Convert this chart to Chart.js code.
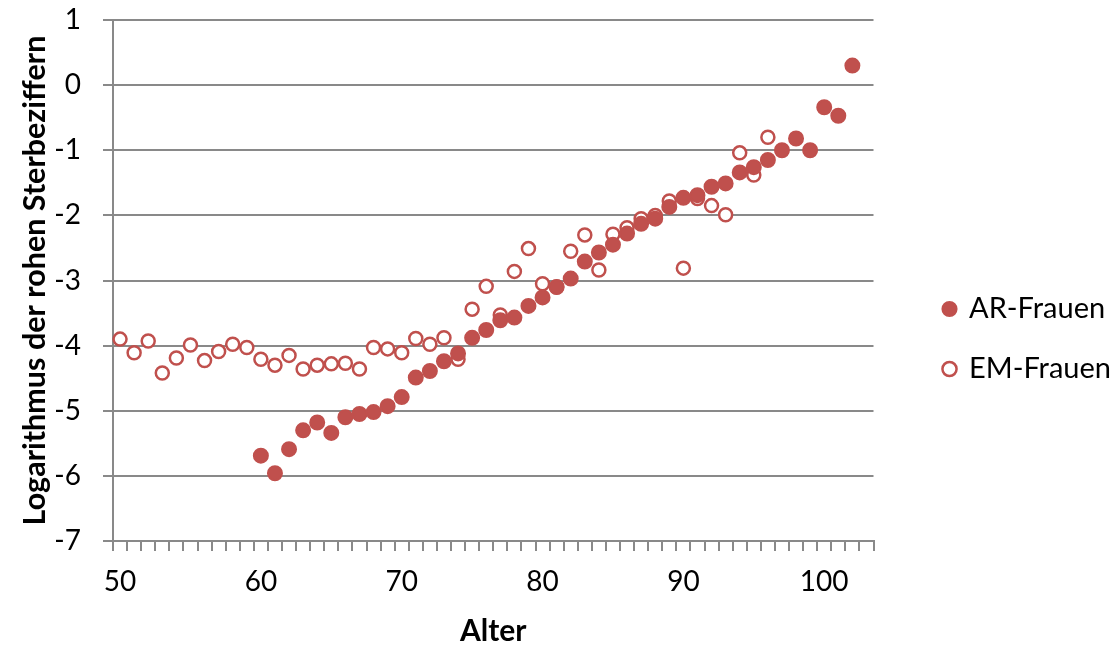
<!DOCTYPE html>
<html>
<head>
<meta charset="utf-8">
<script src="https://cdn.jsdelivr.net/npm/chart.js@4.4.1/dist/chart.umd.min.js"></script>
<style>
    html, body { margin: 0; padding: 0; background: #fff; }
    #wrap { width: 1117px; height: 646px; }
</style>
</head>
<body>
<div id="wrap"><canvas id="sterbeChart"></canvas></div>
<script>
// Alter (categories on the x axis)
const ages = ['50', '51', '52', '53', '54', '55', '56', '57', '58', '59',
    '60', '61', '62', '63', '64', '65', '66', '67', '68', '69',
    '70', '71', '72', '73', '74', '75', '76', '77', '78', '79',
    '80', '81', '82', '83', '84', '85', '86', '87', '88', '89',
    '90', '91', '92', '93', '94', '95', '96', '97', '98', '99',
    '100', '101', '102', '103'];

// AR-Frauen, ages 60..102
const arAges = ['60', '61', '62', '63', '64', '65', '66', '67', '68', '69',
    '70', '71', '72', '73', '74', '75', '76', '77', '78', '79',
    '80', '81', '82', '83', '84', '85', '86', '87', '88', '89',
    '90', '91', '92', '93', '94', '95', '96', '97', '98', '99',
    '100', '101', '102'];
const arValues = [-5.69, -5.96, -5.59, -5.30, -5.18, -5.34, -5.10, -5.05, -5.02, -4.93,
    -4.79, -4.49, -4.39, -4.24, -4.12, -3.88, -3.76, -3.61, -3.57, -3.39,
    -3.26, -3.10, -2.97, -2.71, -2.57, -2.45, -2.28, -2.13, -2.05, -1.87,
    -1.73, -1.69, -1.56, -1.51, -1.34, -1.26, -1.15, -1.00, -0.82, -1.00,
    -0.34, -0.47, 0.30];

// EM-Frauen, ages 50..96
const emAges = ['50', '51', '52', '53', '54', '55', '56', '57', '58', '59',
    '60', '61', '62', '63', '64', '65', '66', '67', '68', '69',
    '70', '71', '72', '73', '74', '75', '76', '77', '78', '79',
    '80', '81', '82', '83', '84', '85', '86', '87', '88', '89',
    '90', '91', '92', '93', '94', '95', '96'];
const emValues = [-3.90, -4.11, -3.93, -4.42, -4.19, -3.99, -4.23, -4.09, -3.98, -4.03,
    -4.21, -4.30, -4.15, -4.36, -4.30, -4.28, -4.27, -4.36, -4.03, -4.05,
    -4.11, -3.89, -3.98, -3.88, -4.21, -3.44, -3.09, -3.53, -2.86, -2.51,
    -3.05, -3.10, -2.55, -2.30, -2.84, -2.29, -2.19, -2.05, -2.00, -1.78,
    -2.81, -1.74, -1.85, -1.99, -1.04, -1.38, -0.80];

const yTicks = [1, 0, -1, -2, -3, -4, -5, -6, -7];

const red = '#C0504D';
const gray = '#898989';
const fontFamily = 'Lato, "Open Sans", sans-serif';

function toPoints(xs, ys) {
    return xs.map((x, i) => ({ x: x, y: ys[i] }));
}

// moves the legend box after layout so the plot area keeps its width
const legendShift = {
    id: 'legendShift',
    afterLayout(chart) {
        const lg = chart.legend;
        if (!lg) return;
        const dx = 40, dy = 6;
        lg.left += dx; lg.right += dx;
        lg.top += dy; lg.bottom += dy;
    }
};

window.onload = () => {
    const ctx = document.getElementById('sterbeChart').getContext('2d');
    new Chart(ctx, {
        type: 'line',
        data: {
            labels: ages,
            datasets: [{
                label: 'AR-Frauen',
                data: toPoints(arAges, arValues),
                showLine: false,
                pointStyle: 'circle',
                pointRadius: 7,
                pointBorderWidth: 2,
                pointBackgroundColor: red,
                pointBorderColor: red,
                backgroundColor: red,
                borderColor: red
            }, {
                label: 'EM-Frauen',
                data: toPoints(emAges, emValues),
                showLine: false,
                pointStyle: 'circle',
                pointRadius: 6.5,
                pointBorderWidth: 2.5,
                pointBackgroundColor: '#ffffff',
                pointBorderColor: red,
                backgroundColor: '#ffffff',
                borderColor: red
            }]
        },
        options: {
            responsive: true,
            maintainAspectRatio: false,
            animation: false,
            layout: { padding: { top: 20, right: 36, bottom: 0, left: 0 } },
            plugins: {
                tooltip: { enabled: false },
                legend: {
                    position: 'right',
                    labels: {
                        usePointStyle: true,
                        boxWidth: 10,
                        boxHeight: 10,
                        padding: 31,
                        color: '#000',
                        font: { family: fontFamily, size: 29 }
                    }
                }
            },
            scales: {
                x: {
                    type: 'category',
                    offset: true,
                    grid: {
                        offset: true,
                        drawOnChartArea: false,
                        drawTicks: true,
                        tickLength: 10,
                        color: gray,
                        lineWidth: 2
                    },
                    border: { color: gray, width: 2 },
                    ticks: {
                        autoSkip: false,
                        maxRotation: 0,
                        padding: 14,
                        color: '#000',
                        font: { family: fontFamily, size: 28 },
                        callback: function (value) {
                            const label = this.getLabelForValue(value);
                            return Number(label) % 10 === 0 ? label : '';
                        }
                    },
                    title: {
                        display: true,
                        text: 'Alter',
                        color: '#000',
                        font: { family: fontFamily, size: 30, weight: 'bold', lineHeight: 1 },
                        padding: { top: 0, bottom: 0 }
                    },
                    afterFit: (scale) => { scale.height = 105; }
                },
                y: {
                    min: -7,
                    max: 1,
                    afterBuildTicks: (scale) => {
                        scale.ticks = yTicks.map(v => ({ value: v }));
                    },
                    grid: {
                        drawTicks: true,
                        tickLength: 10,
                        color: gray,
                        lineWidth: 2
                    },
                    border: { color: gray, width: 2 },
                    ticks: {
                        padding: 22,
                        color: '#000',
                        font: { family: fontFamily, size: 28 }
                    },
                    title: {
                        display: true,
                        text: 'Logarithmus der rohen Sterbeziffern',
                        color: '#000',
                        font: { family: fontFamily, size: 30.5, weight: 'bold', lineHeight: 1 },
                        padding: { top: 20, bottom: 0 }
                    },
                    afterFit: (scale) => {
                        scale.width = 113;
                        scale.paddingTop = 0;
                        scale.paddingBottom = 0;
                    }
                }
            }
        },
        plugins: [legendShift]
    });
};
</script>
</body>
</html>
